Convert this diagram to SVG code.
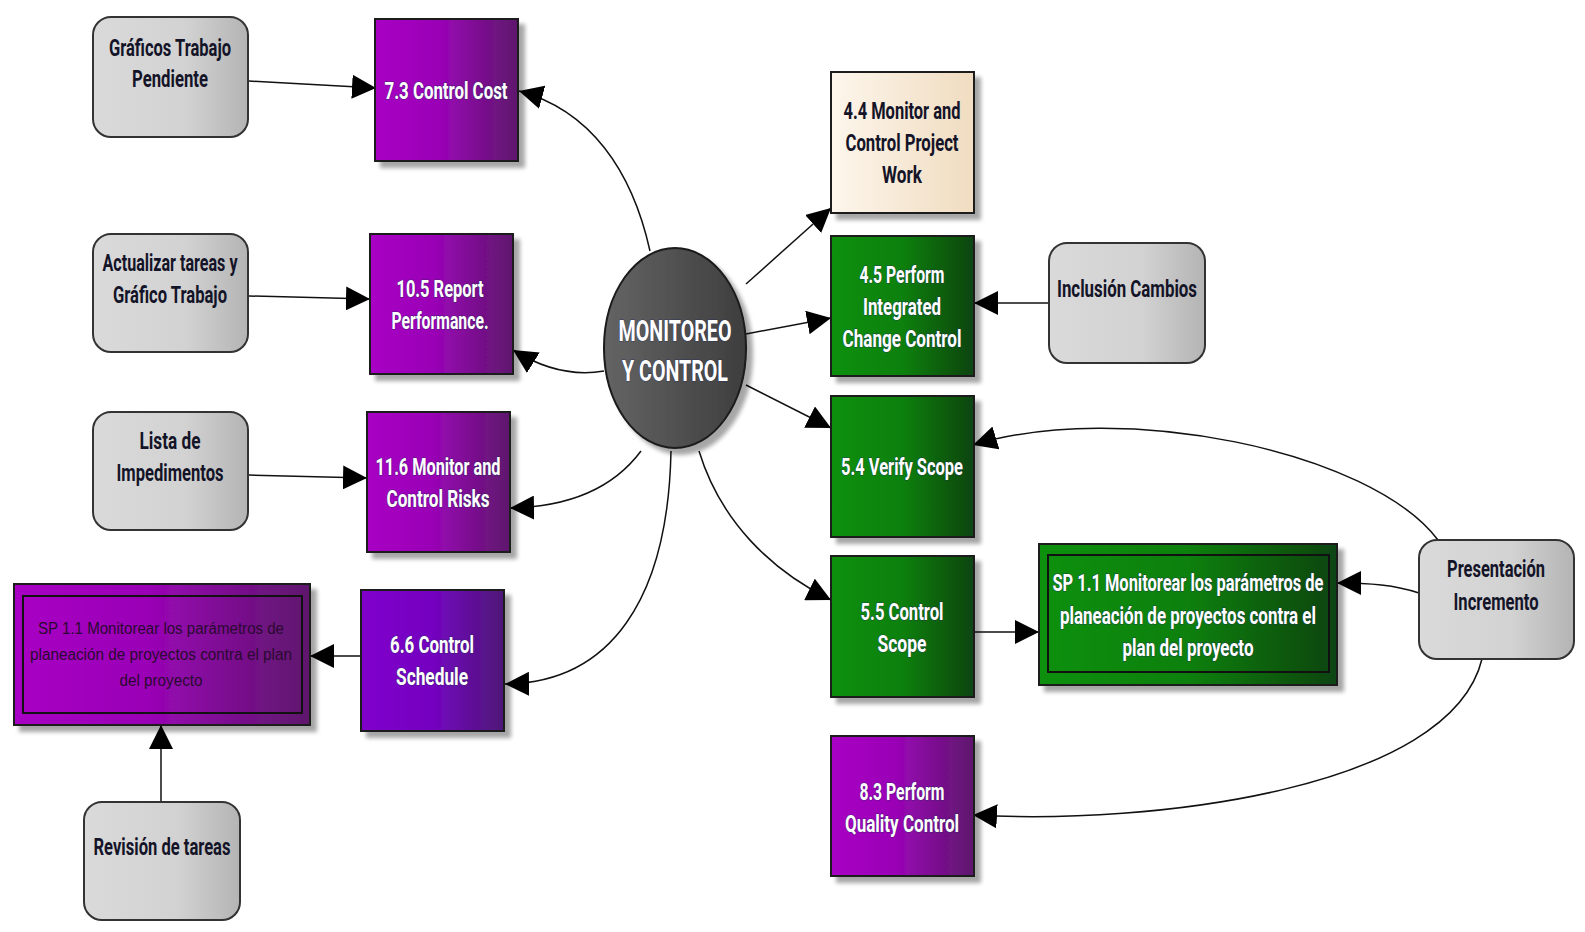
<svg xmlns="http://www.w3.org/2000/svg" width="1585" height="932" viewBox="0 0 1585 932">
  <defs>
    <linearGradient id="gPurple" x1="0" y1="0" x2="1" y2="0">
      <stop offset="0" stop-color="#a800c4"/>
      <stop offset="0.45" stop-color="#9a04b6"/>
      <stop offset="1" stop-color="#5e186c"/>
    </linearGradient>
    <linearGradient id="gViolet" x1="0" y1="0" x2="1" y2="0">
      <stop offset="0" stop-color="#8000cc"/>
      <stop offset="0.5" stop-color="#7404c0"/>
      <stop offset="1" stop-color="#4e1878"/>
    </linearGradient>
    <linearGradient id="gGreen" x1="0" y1="0" x2="1" y2="0">
      <stop offset="0" stop-color="#0a900a"/>
      <stop offset="0.5" stop-color="#0a800c"/>
      <stop offset="1" stop-color="#0c4412"/>
    </linearGradient>
    <linearGradient id="gGray" x1="0" y1="0" x2="1" y2="0">
      <stop offset="0" stop-color="#dadada"/>
      <stop offset="0.6" stop-color="#d2d2d2"/>
      <stop offset="1" stop-color="#b4b4b4"/>
    </linearGradient>
    <linearGradient id="gCream" x1="0" y1="0" x2="1" y2="0">
      <stop offset="0" stop-color="#fdf6ec"/>
      <stop offset="1" stop-color="#f0dcc0"/>
    </linearGradient>
    <linearGradient id="gCircle" x1="0" y1="0" x2="1" y2="0">
      <stop offset="0" stop-color="#646464"/>
      <stop offset="1" stop-color="#3e3e3e"/>
    </linearGradient>
    <filter id="shadow" x="-10%" y="-10%" width="130%" height="130%">
      <feGaussianBlur in="SourceAlpha" stdDeviation="2"/>
      <feOffset dx="6" dy="6" result="b"/>
      <feComponentTransfer><feFuncA type="linear" slope="0.35"/></feComponentTransfer>
      <feMerge><feMergeNode/><feMergeNode in="SourceGraphic"/></feMerge>
    </filter>
    <marker id="arrow" viewBox="0 0 24 24" refX="24" refY="12" markerWidth="24" markerHeight="24" markerUnits="userSpaceOnUse" orient="auto">
      <path d="M0,0 L24,12 L0,24 Z" fill="#000"/>
    </marker>
    <style>
      .box { stroke: #1a1a1a; stroke-width: 2; filter: url(#shadow); }
      .soft { stroke: #333; stroke-width: 2; }
      .purple { fill: url(#gPurple); }
      .violet { fill: url(#gViolet); }
      .green { fill: url(#gGreen); }
      .gray { fill: url(#gGray); }
      .cream { fill: url(#gCream); }
      .inner { fill: none; stroke: #111; stroke-width: 2; }
      text { font-family: "Roboto", "Liberation Sans", Arial, sans-serif; font-size: 24px; text-anchor: middle; }
      .light { fill: #ffffff; font-weight: bold; stroke: #1c2a5a; stroke-width: 1.2; paint-order: stroke; stroke-opacity: 0.7; }
      .dark { fill: #141428; font-weight: bold; }
      .small { font-family: "Liberation Sans", Arial, sans-serif; font-size: 16px; fill: #2a0a30; }
      .big { font-size: 29px; }
      .conn { fill: none; stroke: #111; stroke-width: 1.5; marker-end: url(#arrow); }
    </style>
  </defs>

  <rect width="1585" height="932" fill="#ffffff"/>

  <!-- connectors -->
  <g id="connectors">
    <path class="conn" d="M249,81 L376,88"/>
    <path class="conn" d="M650,251 C632,170 590,110 519,91"/>
    <path class="conn" d="M249,296 L370,299"/>
    <path class="conn" d="M604,371 C575,376 545,370 513,350"/>
    <path class="conn" d="M249,475 L367,478"/>
    <path class="conn" d="M641,451 C612,490 565,507 510,508"/>
    <path class="conn" d="M671,451 C668,600 610,683 505,684"/>
    <path class="conn" d="M361,656 L310,656"/>
    <path class="conn" d="M161,802 L161,725"/>
    <path class="conn" d="M746,284 L831,208"/>
    <path class="conn" d="M746,334 L831,318"/>
    <path class="conn" d="M1049,303 L974,303"/>
    <path class="conn" d="M746,385 L831,428"/>
    <path class="conn" d="M699,451 C720,520 770,570 831,600"/>
    <path class="conn" d="M973,632 L1039,632"/>
    <path class="conn" d="M1438,540 C1370,450 1120,400 973,445"/>
    <path class="conn" d="M1419,593 C1395,585 1370,583 1337,583"/>
    <path class="conn" d="M1482,659 C1450,790 1150,825 973,815"/>
  </g>

  <!-- left column inputs -->
  <g id="graficos-trabajo">
    <rect class="soft gray" x="93" y="17" width="155" height="120" rx="18"/>
    <text class="dark" x="170" y="56" textLength="122" lengthAdjust="spacingAndGlyphs">Gráficos Trabajo</text>
    <text class="dark" x="170" y="87" textLength="76" lengthAdjust="spacingAndGlyphs">Pendiente</text>
  </g>
  <g id="control-cost">
    <rect class="box purple" x="375" y="19" width="143" height="142"/>
    <text class="light" x="446" y="99" textLength="123" lengthAdjust="spacingAndGlyphs">7.3 Control Cost</text>
  </g>

  <g id="actualizar-tareas">
    <rect class="soft gray" x="93" y="234" width="155" height="118" rx="18"/>
    <text class="dark" x="170" y="271" textLength="135" lengthAdjust="spacingAndGlyphs">Actualizar tareas y</text>
    <text class="dark" x="170" y="303" textLength="114" lengthAdjust="spacingAndGlyphs">Gráfico Trabajo</text>
  </g>
  <g id="report-performance">
    <rect class="box purple" x="370" y="234" width="143" height="140"/>
    <text class="light" x="440" y="297" textLength="87" lengthAdjust="spacingAndGlyphs">10.5 Report</text>
    <text class="light" x="440" y="329" textLength="97" lengthAdjust="spacingAndGlyphs">Performance.</text>
  </g>

  <g id="lista-impedimentos">
    <rect class="soft gray" x="93" y="412" width="155" height="118" rx="18"/>
    <text class="dark" x="170" y="449" textLength="61" lengthAdjust="spacingAndGlyphs">Lista de</text>
    <text class="dark" x="170" y="481" textLength="107" lengthAdjust="spacingAndGlyphs">Impedimentos</text>
  </g>
  <g id="monitor-risks">
    <rect class="box purple" x="367" y="412" width="143" height="140"/>
    <text class="light" x="438" y="475" textLength="125" lengthAdjust="spacingAndGlyphs">11.6 Monitor and</text>
    <text class="light" x="438" y="507" textLength="103" lengthAdjust="spacingAndGlyphs">Control Risks</text>
  </g>

  <g id="sp-purple">
    <rect class="box purple" x="14" y="584" width="296" height="141"/>
    <rect class="inner" x="23" y="596" width="279" height="117"/>
    <text class="small" x="161" y="634" textLength="246" lengthAdjust="spacingAndGlyphs">SP 1.1 Monitorear los parámetros de</text>
    <text class="small" x="161" y="660" textLength="262" lengthAdjust="spacingAndGlyphs">planeación de proyectos contra el plan</text>
    <text class="small" x="161" y="686" textLength="83" lengthAdjust="spacingAndGlyphs">del proyecto</text>
  </g>
  <g id="control-schedule">
    <rect class="box violet" x="361" y="590" width="143" height="141"/>
    <text class="light" x="432" y="653" textLength="84" lengthAdjust="spacingAndGlyphs">6.6 Control</text>
    <text class="light" x="432" y="685" textLength="72" lengthAdjust="spacingAndGlyphs">Schedule</text>
  </g>
  <g id="revision-tareas">
    <rect class="soft gray" x="84" y="802" width="156" height="118" rx="18"/>
    <text class="dark" x="162" y="855" textLength="137" lengthAdjust="spacingAndGlyphs">Revisión de tareas</text>
  </g>

  <!-- central hub -->
  <g id="monitoreo-control">
    <ellipse cx="675" cy="348" rx="71" ry="100" fill="url(#gCircle)" stroke="#1a1a1a" stroke-width="2" filter="url(#shadow)"/>
    <text class="light big" x="675" y="341" textLength="113" lengthAdjust="spacingAndGlyphs">MONITOREO</text>
    <text class="light big" x="675" y="381" textLength="106" lengthAdjust="spacingAndGlyphs">Y CONTROL</text>
  </g>

  <!-- right column -->
  <g id="monitor-project-work">
    <rect class="box cream" x="831" y="72" width="143" height="141"/>
    <text class="dark" x="902" y="119" textLength="117" lengthAdjust="spacingAndGlyphs">4.4 Monitor and</text>
    <text class="dark" x="902" y="151" textLength="113" lengthAdjust="spacingAndGlyphs">Control Project</text>
    <text class="dark" x="902" y="183" textLength="40" lengthAdjust="spacingAndGlyphs">Work</text>
  </g>
  <g id="integrated-change">
    <rect class="box green" x="831" y="236" width="143" height="140"/>
    <text class="light" x="902" y="283" textLength="85" lengthAdjust="spacingAndGlyphs">4.5 Perform</text>
    <text class="light" x="902" y="315" textLength="78" lengthAdjust="spacingAndGlyphs">Integrated</text>
    <text class="light" x="902" y="347" textLength="119" lengthAdjust="spacingAndGlyphs">Change Control</text>
  </g>
  <g id="inclusion-cambios">
    <rect class="soft gray" x="1049" y="243" width="156" height="120" rx="18"/>
    <text class="dark" x="1127" y="297" textLength="140" lengthAdjust="spacingAndGlyphs">Inclusión Cambios</text>
  </g>
  <g id="verify-scope">
    <rect class="box green" x="831" y="396" width="143" height="141"/>
    <text class="light" x="902" y="475" textLength="122" lengthAdjust="spacingAndGlyphs">5.4 Verify Scope</text>
  </g>
  <g id="control-scope">
    <rect class="box green" x="831" y="556" width="143" height="141"/>
    <text class="light" x="902" y="620" textLength="83" lengthAdjust="spacingAndGlyphs">5.5 Control</text>
    <text class="light" x="902" y="652" textLength="49" lengthAdjust="spacingAndGlyphs">Scope</text>
  </g>
  <g id="sp-green">
    <rect class="box green" x="1039" y="544" width="298" height="141"/>
    <rect class="inner" x="1048" y="555" width="281" height="117"/>
    <text class="light" x="1188" y="591" textLength="271" lengthAdjust="spacingAndGlyphs">SP 1.1 Monitorear los parámetros de</text>
    <text class="light" x="1188" y="624" textLength="256" lengthAdjust="spacingAndGlyphs">planeación de proyectos contra el</text>
    <text class="light" x="1188" y="656" textLength="131" lengthAdjust="spacingAndGlyphs">plan del proyecto</text>
  </g>
  <g id="presentacion-incremento">
    <rect class="soft gray" x="1419" y="540" width="155" height="119" rx="18"/>
    <text class="dark" x="1496" y="577" textLength="98" lengthAdjust="spacingAndGlyphs">Presentación</text>
    <text class="dark" x="1496" y="610" textLength="85" lengthAdjust="spacingAndGlyphs">Incremento</text>
  </g>
  <g id="quality-control">
    <rect class="box purple" x="831" y="736" width="143" height="140"/>
    <text class="light" x="902" y="800" textLength="85" lengthAdjust="spacingAndGlyphs">8.3 Perform</text>
    <text class="light" x="902" y="832" textLength="114" lengthAdjust="spacingAndGlyphs">Quality Control</text>
  </g>
</svg>
